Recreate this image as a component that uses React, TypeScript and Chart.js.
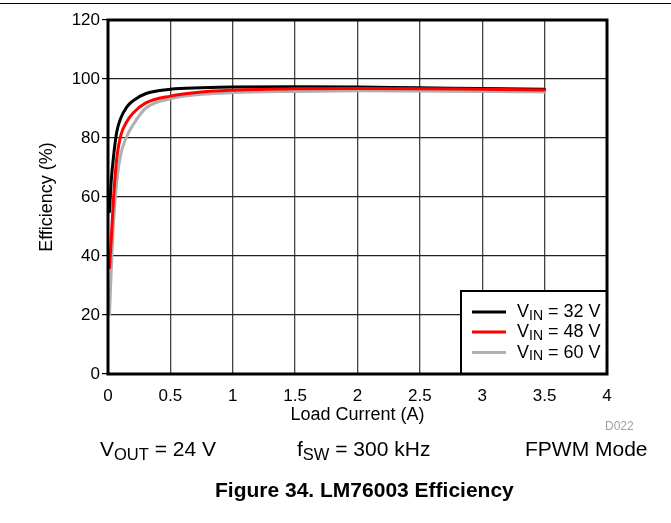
import React, { useEffect, useRef } from 'react';
import { Chart, registerables } from 'chart.js';

Chart.register(...registerables);

// Load current (A)
const loadCurrent = [0.012, 0.025, 0.045, 0.07, 0.1, 0.15, 0.2, 0.3, 0.5, 0.75, 1, 1.5, 2, 2.5, 3, 3.5];
// Efficiency (%)
const effVin32 = [55, 65, 74, 82, 86.5, 90.5, 92.6, 95.0, 96.5, 97.0, 97.3, 97.4, 97.3, 97.0, 96.8, 96.5];
const effVin48 = [36, 45, 60, 73, 80.5, 85.5, 88.4, 91.8, 94.2, 95.6, 96.2, 96.7, 96.8, 96.7, 96.5, 96.3];
const effVin60 = [20, 34, 52, 65, 74, 80.5, 84.4, 90.0, 93.3, 94.8, 95.4, 95.8, 96.0, 95.9, 95.8, 95.6];

const seriesVin = ['32', '48', '60'];
const seriesColors = ['#000000', '#ff0000', '#b0b0b0'];
const seriesOrder = [1, 0, 2];

const xMin = 0;
const xMax = 4;
const xStep = 0.5;
const yMin = 0;
const yMax = 120;
const yStep = 20;

const FONT = "'Liberation Sans', Arial, Helvetica, sans-serif";

export default function App() {
  const ref = useRef<HTMLCanvasElement>(null);

  useEffect(() => {
    const canvas = ref.current;
    if (!canvas) return;
    const allSeries = [effVin32, effVin48, effVin60];

    const framePlugin = {
      id: 'frameAndLegend',
      afterDatasetsDraw(chart: any) {
        const { ctx, chartArea } = chart;
        const { left, top, right, bottom } = chartArea;
        ctx.save();
        // legend box
        const bx = right - 146;
        const by = bottom - 83;
        ctx.fillStyle = '#ffffff';
        ctx.fillRect(bx, by, 146, 83);
        ctx.strokeStyle = '#000';
        ctx.lineWidth = 2;
        ctx.strokeRect(bx, by, 146, 83);
        const rowsY = [bottom - 62, bottom - 42, bottom - 21.5];
        seriesVin.forEach((v, i) => {
          const y = rowsY[i];
          ctx.strokeStyle = seriesColors[i];
          ctx.lineWidth = 3;
          ctx.beginPath();
          ctx.moveTo(right - 135, y);
          ctx.lineTo(right - 101, y);
          ctx.stroke();
          ctx.fillStyle = '#000';
          ctx.textBaseline = 'alphabetic';
          ctx.textAlign = 'left';
          let tx = right - 90;
          const base = y + 5;
          ctx.font = `18px ${FONT}`;
          ctx.fillText('V', tx, base);
          tx += ctx.measureText('V').width;
          ctx.font = `14px ${FONT}`;
          ctx.fillText('IN', tx, base + 2.5);
          tx += ctx.measureText('IN').width;
          ctx.font = `18px ${FONT}`;
          ctx.fillText(` = ${v} V`, tx, base);
        });
        // plot frame
        ctx.strokeStyle = '#000';
        ctx.lineWidth = 3;
        ctx.strokeRect(left, top, right - left, bottom - top);
        ctx.restore();
      },
    };

    const chart = new Chart(canvas, {
      type: 'line',
      data: {
        labels: loadCurrent,
        datasets: allSeries.map((vals, i) => ({
          label: `VIN = ${seriesVin[i]} V`,
          data: vals.map((y, j) => ({ x: loadCurrent[j], y })),
          borderColor: seriesColors[i],
          backgroundColor: seriesColors[i],
          borderWidth: 3,
          pointRadius: 0,
          fill: false,
          cubicInterpolationMode: 'monotone' as const,
          order: seriesOrder[i],
          borderCapStyle: 'round' as const,
          borderJoinStyle: 'round' as const,
        })),
      },
      options: {
        animation: false,
        responsive: false,
        devicePixelRatio: 1,
        layout: { padding: { left: 0, right: 64, top: 20, bottom: 89 } },
        plugins: {
          legend: { display: false },
          tooltip: { enabled: false },
        },
        scales: {
          x: {
            type: 'linear',
            min: xMin,
            max: xMax,
            ticks: {
              stepSize: xStep,
              color: '#000',
              font: { family: FONT, size: 17 },
              padding: 12,
              maxRotation: 0,
              callback: (v: any) => `${Number(v)}`,
            },
            grid: { color: '#444', lineWidth: 1.3, drawTicks: false },
            border: { display: false },
            title: {
              display: true,
              text: 'Load Current (A)',
              color: '#000',
              font: { family: FONT, size: 18 },
              padding: { top: 0, bottom: 8 },
            },
            afterFit: (s: any) => {
              s.height = 60;
            },
          },
          y: {
            min: yMin,
            max: yMax,
            ticks: {
              stepSize: yStep,
              color: '#000',
              font: { family: FONT, size: 17 },
              padding: 2,
              callback: (v: any) => `${Number(v)}`,
            },
            grid: { color: '#222', lineWidth: 1.2, drawTicks: true, tickLength: 6, tickColor: '#000' },
            border: { display: false },
            title: {
              display: true,
              text: 'Efficiency (%)',
              color: '#000',
              font: { family: FONT, size: 18 },
              padding: { top: 36, bottom: 0 },
            },
            afterFit: (s: any) => {
              s.width = 108;
            },
          },
        },
      },
      plugins: [framePlugin],
    });
    return () => chart.destroy();
  }, []);

  const lineTxt = (baseline: number, size: number) => ({
    position: 'absolute' as const,
    top: baseline - 0.8465 * size,
    fontSize: size,
    lineHeight: `${size}px`,
    whiteSpace: 'nowrap' as const,
    color: '#000',
    fontFamily: FONT,
  });
  const sub = (size: number, shift: number) => ({
    fontSize: size,
    position: 'relative' as const,
    top: shift,
    lineHeight: 0,
    verticalAlign: 'baseline',
  });

  return (
    <div style={{ position: 'absolute', left: 0, top: 0, width: 671, height: 523, background: '#fff', overflow: 'hidden' }}>
      <div style={{ position: 'absolute', left: 0, top: 3, width: 671, height: 1, background: '#000' }} />
      <canvas ref={ref} width={671} height={523} style={{ position: 'absolute', left: 0, top: 0, width: 671, height: 523 }} />
      <div style={{ ...lineTxt(430, 12), left: 605, color: '#a0a0a0' }}>D022</div>
      <div style={{ ...lineTxt(456, 21), left: 100 }}>
        V<span style={sub(16.5, 3.3)}>OUT</span> = 24 V
      </div>
      <div style={{ ...lineTxt(456, 21), left: 297 }}>
        f<span style={sub(16.5, 3.3)}>SW</span> = 300 kHz
      </div>
      <div style={{ ...lineTxt(456, 21), left: 525 }}>FPWM Mode</div>
      <div style={{ ...lineTxt(497, 21), left: 215, fontWeight: 'bold' }}>Figure 34. LM76003 Efficiency</div>
    </div>
  );
}
